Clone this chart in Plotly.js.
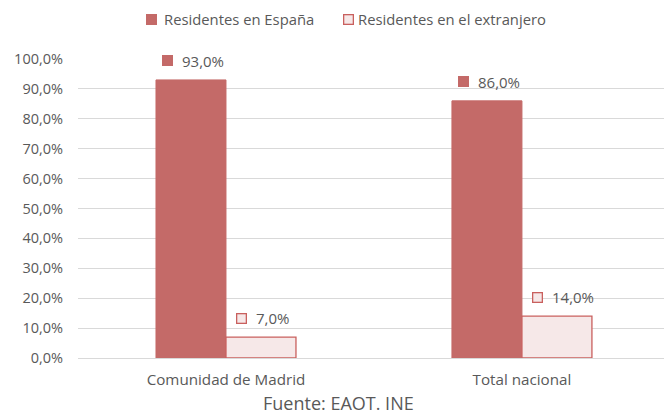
<!DOCTYPE html>
<html>
<head>
<meta charset="utf-8">
<script src="https://cdn.plot.ly/plotly-3.0.1.min.js"></script>
<style>html,body{margin:0;padding:0;background:#fff;}#chart{width:664px;height:414px;}</style>
</head>
<body>
<div id="chart"></div>
<script>
const categories = ["Comunidad de Madrid", "Total nacional"];
const seriesNames = ["Residentes en España", "Residentes en el extranjero"];
const residentesEspana = [93.0, 86.0];
const residentesExtranjero = [7.0, 14.0];
const yTickVals = [0,10,20,30,40,50,60,70,80,90,100];
const sourceText = "Fuente: EAOT. INE";

const FONT = "Open Sans, Noto Sans, sans-serif";
const TXT = "#595959";
const RED = "#c46a68";
const RED_LINE = "#c9605e";
const PINK = "#f6e8e8";

const fmt = v => v.toFixed(1).replace('.', ',') + '%';

const traces = [
  {type:'bar', name:seriesNames[0], x:categories, y:residentesEspana,
   marker:{color:RED, line:{color:RED, width:1}}, hoverinfo:'skip'},
  {type:'bar', name:seriesNames[1], x:categories, y:residentesExtranjero,
   marker:{color:PINK, line:{color:RED_LINE, width:1.3}}, hoverinfo:'skip'}
];

const annotations = [];
const series = [
  {vals:residentesEspana, sqShift:-58, txtShift:-46, bg:RED, border:RED},
  {vals:residentesExtranjero, sqShift:16, txtShift:28, bg:PINK, border:RED_LINE}
];
function box(o) {
  return Object.assign({text:' ', showarrow:false, width:8, height:8, borderpad:0,
    borderwidth:1.3, font:{size:4}, xanchor:'center', yanchor:'middle'}, o);
}
series.forEach(s => {
  s.vals.forEach((v,i) => {
    annotations.push(box({x:categories[i], y:v, xref:'x', yref:'y', yshift:19, xshift:s.sqShift,
      bgcolor:s.bg, bordercolor:s.border}));
    annotations.push({x:categories[i], y:v, xref:'x', yref:'y', yshift:19, xshift:s.txtShift,
      text:fmt(v), showarrow:false, xanchor:'left', yanchor:'middle',
      font:{family:FONT, size:15, color:TXT}});
  });
});
// legend (drawn manually to match spacing)
const toPX = px => (px - 78) / 586;
const toPY = py => (358 - py) / 299;
const legendItems = [
  {sq:151, tx:162, bg:RED, border:RED},
  {sq:348, tx:356, bg:PINK, border:RED_LINE}
];
legendItems.forEach((it, k) => {
  annotations.push(box({xref:'paper', yref:'paper', x:toPX(it.sq), y:toPY(19), bgcolor:it.bg,
    bordercolor:it.border}));
  annotations.push({xref:'paper', yref:'paper', x:toPX(it.tx), y:toPY(19), text:seriesNames[k],
    showarrow:false, xanchor:'left', yanchor:'middle', font:{family:FONT, size:14.8, color:TXT}});
});
annotations.push({text:sourceText, xref:'paper', yref:'paper', x:toPX(338), y:toPY(403),
  xanchor:'center', yanchor:'middle', showarrow:false, font:{family:FONT, size:18, color:TXT}});

const layout = {
  width:664, height:414,
  margin:{l:78, r:0, t:59, b:56},
  paper_bgcolor:'#fff', plot_bgcolor:'#fff',
  separators:',.',
  barmode:'group', bargap:0.527, bargroupgap:0,
  font:{family:FONT, color:TXT, size:13},
  showlegend:false,
  xaxis:{type:'category', range:[-0.5, 1.48], showgrid:false, zeroline:false, showline:false,
    ticks:'', tickfont:{family:FONT, size:15.2, color:TXT}, ticklabelstandoff:11, fixedrange:true},
  yaxis:{range:[0,100], tickvals:yTickVals, ticktext:yTickVals.map(fmt), showgrid:true,
    gridcolor:'#d9d9d9', gridwidth:1, zeroline:true, zerolinecolor:'#d9d9d9', zerolinewidth:1,
    showline:false, ticks:'', tickfont:{family:FONT, size:14.5, color:TXT}, ticklabelstandoff:14,
    fixedrange:true},
  annotations:annotations
};

Plotly.newPlot('chart', traces, layout, {displayModeBar:false, staticPlot:true});
</script>
</body>
</html>
